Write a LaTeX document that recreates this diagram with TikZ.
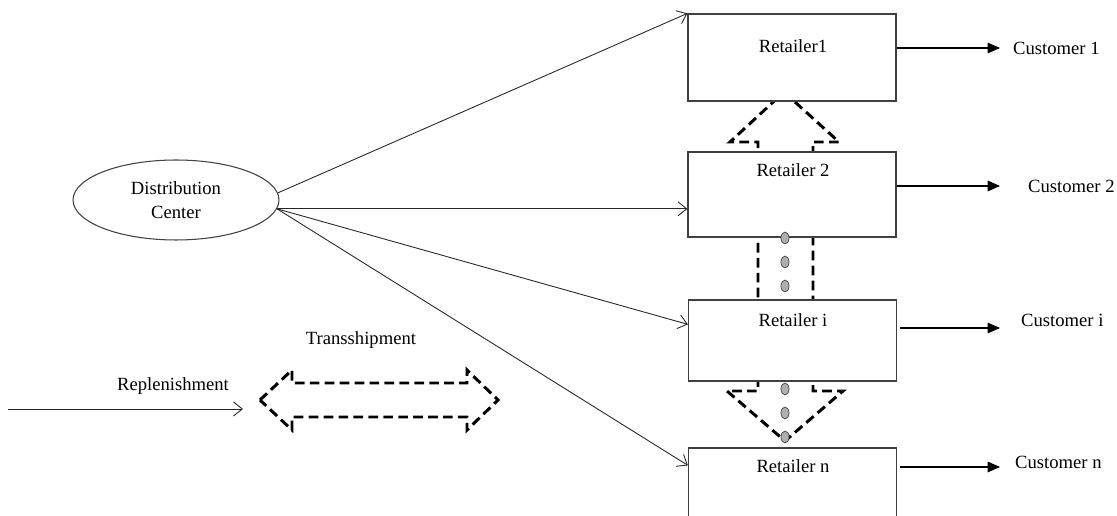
\documentclass[tikz,border=0pt]{standalone}
\usepackage{fontspec}
\setmainfont{Liberation Serif}
\usepackage{tikz}
\usetikzlibrary{arrows.meta, positioning, calc, shapes.geometric}
\definecolor{boxgray}{RGB}{64,64,64}
\definecolor{dotgray}{RGB}{175,175,175}

\begin{document}
\begin{tikzpicture}[x=0.02cm, y=-0.02cm,
  every node/.style={font=\fontsize{10.6}{14}\selectfont},
  retailer/.style={draw=boxgray, line width=0.7pt, fill=white, minimum width=4.16cm, inner sep=0pt},
  ship/.style={black!85, line width=0.5pt, -{Straight Barb[length=5pt,width=8pt]}},
  demand/.style={black, line width=0.6pt, -{Triangle[length=7pt,width=6pt]}},
  transfer/.style={black, line width=1.7pt, dash pattern=on 5.5pt off 3pt}]
  \useasboundingbox (0,0) rectangle (1117,516);

  % Transshipment between retailers (behind the boxes)
  \draw[transfer] (784,92) -- (839,142) -- (813,142) -- (813,391) -- (843,391)
    -- (785,441) -- (727,391) -- (758,391) -- (758,142) -- (730,142) -- cycle;

  % Retailers
  \node[retailer, minimum height=1.74cm] (r1) at (792,57.5) {};
  \node[retailer, minimum height=1.70cm] (r2) at (792,194.5) {};
  \node[retailer, minimum height=1.62cm] (ri) at (792.5,340.5) {};
  \node[retailer, minimum height=1.80cm] (rn) at (792.5,493) {};
  \node (r1lab) at (793,46) {Retailer1};
  \node (r2lab) at (793,170) {Retailer 2};
  \node (rilab) at (793,320) {Retailer i};
  \node (rnlab) at (793,466) {Retailer n};

  % Dots
  \foreach \y in {238,262,286,389,413,437} {
    \draw[boxgray, fill=dotgray, line width=0.4pt] (785,\y) ellipse (2.3pt and 3.4pt);
  }

  % Distribution center
  \node[ellipse, draw=boxgray, line width=0.6pt, minimum width=4.12cm, minimum height=1.6cm,
    inner sep=0pt, align=center] (dc) at (176,200) {Distribution\\Center};
  \draw[ship] (dc.4) -- (r1.north west);
  \draw[ship] (dc.-5) -- (r2.west |- dc.-5);
  \draw[ship] (dc.-5) -- ($(ri.north west)+(0,25)$);
  \draw[ship] (dc.-5) -- ($(rn.north west)+(0,18)$);

  % Customers
  \node[anchor=west] (c1) at (1007,48) {Customer 1};
  \node[anchor=west] (c2) at (1022,186) {Customer 2};
  \node[anchor=west] (ci) at (1015,320) {Customer i};
  \node[anchor=west] (cn) at (1009,462) {Customer n};
  \draw[demand] (r1.east |- c1) -- ($(c1.west)+(-7,0)$);
  \draw[demand] (r2.east |- c2) -- ($(c2.west)+(-22,0)$);
  \draw[demand] ($(ri.east |- ci)+(3,8)$) -- ($(ci.west)+(-15,8)$);
  \draw[demand] ($(rn.east |- cn)+(3,5)$) -- ($(cn.west)+(-9,5)$);

  % Legend
  \node (repllab) at (173,386) {Replenishment};
  \coordinate (replA) at (8,409);
  \coordinate (replB) at (243,409);
  \draw[ship] (replA) -- (replB);
  \node (translab) at (361,340) {Transshipment};
  \draw[transfer] (260,400) -- (292,370) -- (292,383) -- (467,383) -- (467,370)
    -- (498,400) -- (467,430) -- (467,417) -- (292,417) -- (292,430) -- cycle;
\end{tikzpicture}
\end{document}
